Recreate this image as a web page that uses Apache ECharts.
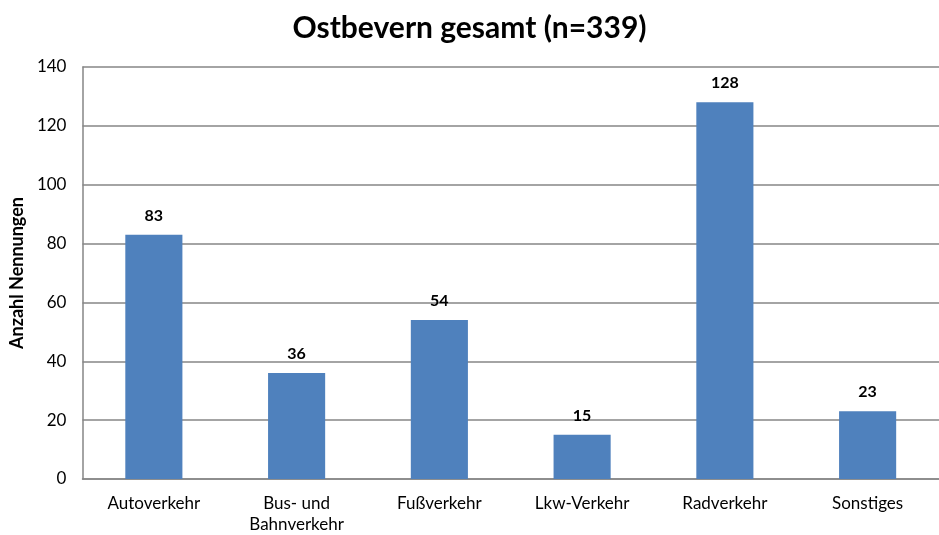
<!DOCTYPE html>
<html><head><meta charset="utf-8">
<script src="https://cdn.jsdelivr.net/npm/echarts@6/dist/echarts.min.js"></script>
<style>html,body{margin:0;padding:0;background:#fff}#c{width:939px;height:535px}</style>
</head><body><div id="c"></div>
<script>
const categories = ["Autoverkehr", "Bus- und\nBahnverkehr", "Fußverkehr", "Lkw-Verkehr", "Radverkehr", "Sonstiges"];
const values = [83, 36, 54, 15, 128, 23];
const yTicks = [0, 20, 40, 60, 80, 100, 120, 140];
const FONT = "Lato";
const chart = echarts.init(document.getElementById('c'));
chart.setOption({
  animation: false,
  textStyle: { fontFamily: FONT },
  title: { text: "Ostbevern gesamt (n=339)", left: 'center', top: 8,
    textStyle: { fontFamily: FONT, fontSize: 30, fontWeight: 'bold', color: '#000' } },
  grid: { left: 79, right: 0, top: 67, bottom: 52 },
  xAxis: { type: 'category', data: categories,
    axisLine: { lineStyle: { color: '#868686', width: 1.5 } },
    axisTick: { show: false },
    axisLabel: { color: '#000', fontSize: 17, fontFamily: FONT, margin: 14, lineHeight: 21 } },
  yAxis: { type: 'value', min: yTicks[0], max: yTicks[yTicks.length-1], interval: 20,
    name: "Anzahl Nennungen", nameLocation: 'middle', nameGap: 44, nameRotate: 90,
    nameTextStyle: { fontFamily: FONT, fontSize: 18, fontWeight: 'bold', color: '#000' },
    axisLine: { show: true, lineStyle: { color: '#868686', width: 1.5 } },
    axisTick: { show: false },
    axisLabel: { color: '#000', fontSize: 17, fontFamily: FONT, margin: 16 },
    splitLine: { lineStyle: { color: '#868686', width: 1.5 } } },
  series: [{ type: 'bar', data: values, barWidth: '40%',
    itemStyle: { color: '#4F81BD' },
    label: { show: true, position: 'top', distance: 11, color: '#000', fontSize: 16, fontWeight: 'bold', fontFamily: FONT } }]
});
</script></body></html>
